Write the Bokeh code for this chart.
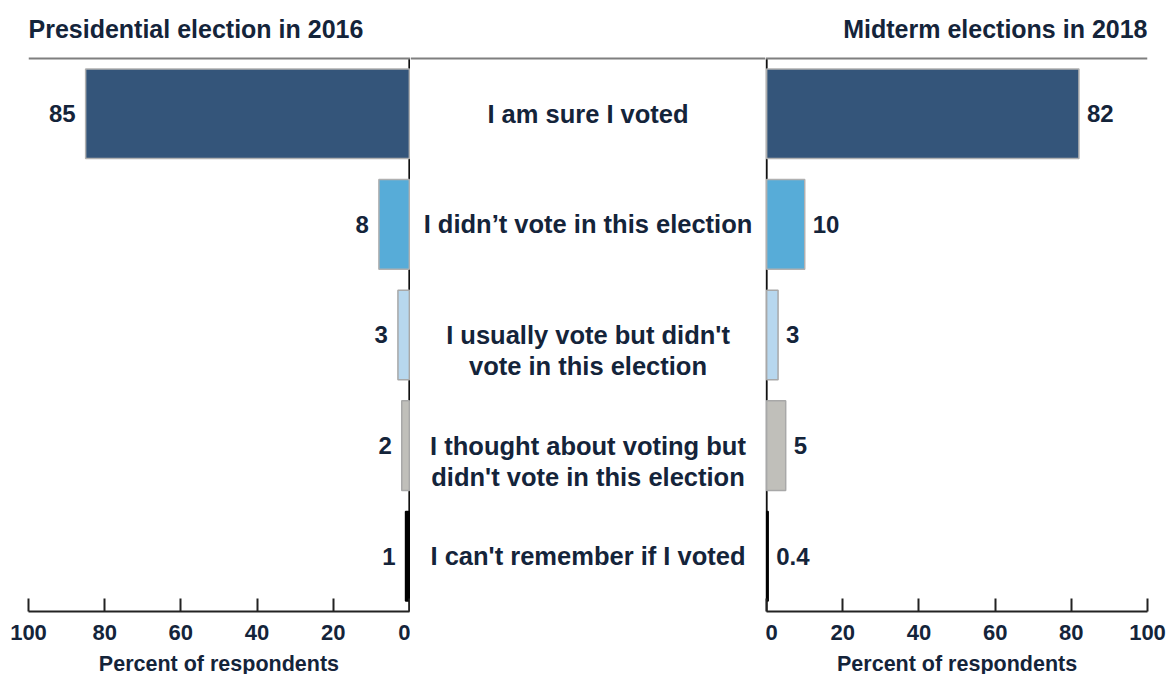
from bokeh.plotting import figure
from bokeh.layouts import row, column
from bokeh.models import Range1d, FixedTicker, Span
from bokeh.core.properties import value
from bokeh.embed import file_html
from bokeh.resources import INLINE

# ---- data ----
categories = [
    "I am sure I voted",
    "I didn\u2019t vote in this election",
    "I usually vote but didn't\nvote in this election",
    "I thought about voting but\ndidn't vote in this election",
    "I can't remember if I voted",
]
pres_2016 = [85, 8, 3, 2, 1]
mid_2018 = [82, 10, 3, 5, 0.4]
bar_colors = ["#34557a", "#57acd8", "#b7d7ee", "#c0bfba", "#000000"]
edge_colors = ["#b0b0b0", "#b0b0b0", "#a8a8a8", "#a8a8a8", "#000000"]
ticks = [0, 20, 40, 60, 80, 100]
left_title = "Presidential election in 2016"
right_title = "Midterm elections in 2018"
axis_title = "Percent of respondents"

# ---- style / layout ----
FONT = "Liberation Sans"
TXT = "#14243a"
W_L, W_M, W_R = 410, 355, 403
B_L, B_R = 28, 21
TOP_H = 51
MAIN_H = 602
MAIN_BOTTOM = 42
BOT_H = 21
BAR_H = 0.81
LINE_STEP = 0.284
rows = list(range(len(categories)))

left_range = Range1d(100, -0.3)
mid_range = Range1d(0, 1)
right_range = Range1d(-0.3, 100)


def fmt(v):
    return f"{v:g}"


def blank(width, height, xr, bl, br):
    p = figure(width=width, height=height, x_range=xr, y_range=Range1d(0, height),
               output_backend="svg", toolbar_location=None,
               x_axis_location=None, y_axis_location=None,
               min_border_left=bl, min_border_right=br,
               min_border_top=0, min_border_bottom=0)
    p.outline_line_color = None
    p.grid.visible = False
    p.border_fill_color = "white"
    return p


def main(width, xr, bl, br, axis=True):
    p = figure(width=width, height=MAIN_H, x_range=xr, y_range=Range1d(4.5, -0.563),
               output_backend="svg", toolbar_location=None, y_axis_location=None,
               x_axis_location="below" if axis else None,
               min_border_left=bl, min_border_right=br,
               min_border_top=0, min_border_bottom=MAIN_BOTTOM)
    p.outline_line_color = None
    p.grid.visible = False
    p.border_fill_color = "white"
    p.add_layout(Span(location=-0.5, dimension="width", line_color="#7f7f7f", line_width=2))
    if axis:
        ax = p.xaxis[0]
        ax.ticker = FixedTicker(ticks=ticks)
        ax.bounds = (0, 100)
        ax.major_tick_in = 13
        ax.major_tick_out = 0
        ax.minor_tick_line_color = None
        ax.axis_line_width = 2
        ax.major_tick_line_width = 2
        ax.axis_line_color = "#222222"
        ax.major_tick_line_color = "#222222"
        ax.major_label_text_font = FONT
        ax.major_label_text_font_size = "22px"
        ax.major_label_text_font_style = "bold"
        ax.major_label_text_color = TXT
        ax.major_label_standoff = 13
        p.segment(x0=[0], y0=[-0.5], x1=[0], y1=[4.5], line_color="#111111", line_width=2)
    return p


text_kw = dict(text_font=value(FONT), text_font_style="bold", text_color=TXT)

# ---- title strip ----
t1 = blank(W_L, TOP_H, left_range, B_L, 0)
t1.text(x=[100], y=[23], text=[left_title], text_align="left",
        text_baseline="middle", text_font_size="25px", **text_kw)
t2 = blank(W_M, TOP_H, mid_range, 0, 0)
t3 = blank(W_R, TOP_H, right_range, 0, B_R)
t3.text(x=[100], y=[23], text=[right_title], text_align="right",
        text_baseline="middle", text_font_size="25px", **text_kw)

# ---- left panel (2016) ----
p1 = main(W_L, left_range, B_L, 0)
p1.hbar(y=rows, left=0, right=pres_2016, height=BAR_H,
        fill_color=bar_colors, line_color=edge_colors, line_width=1.5)
p1.text(x=pres_2016, y=rows, text=[fmt(v) for v in pres_2016],
        text_align="right", text_baseline="middle", x_offset=-10,
        text_font_size="24px", **text_kw)

# ---- middle panel (categories) ----
p2 = main(W_M, mid_range, 0, 0, axis=False)
lx, ly, lt = [], [], []
for r, c in zip(rows, categories):
    for k, line in enumerate(c.split("\n")):
        lx.append(0.5)
        ly.append(r + k * LINE_STEP)
        lt.append(line)
p2.text(x=lx, y=ly, text=lt, text_align="center", text_baseline="middle",
        text_font_size="25.5px", **text_kw)

# ---- right panel (2018) ----
p3 = main(W_R, right_range, 0, B_R)
p3.hbar(y=rows, left=0, right=mid_2018, height=BAR_H,
        fill_color=bar_colors, line_color=edge_colors, line_width=1.5)
p3.text(x=mid_2018, y=rows, text=[fmt(v) for v in mid_2018],
        text_align="left", text_baseline="middle", x_offset=8,
        text_font_size="24px", **text_kw)

# ---- axis-title strip ----
b1 = blank(W_L, BOT_H, left_range, B_L, 0)
b1.text(x=[50], y=[11], text=[axis_title], text_align="center",
        text_baseline="middle", text_font_size="21.5px", **text_kw)
b2 = blank(W_M, BOT_H, mid_range, 0, 0)
b3 = blank(W_R, BOT_H, right_range, 0, B_R)
b3.text(x=[50], y=[11], text=[axis_title], text_align="center",
        text_baseline="middle", text_font_size="21.5px", **text_kw)

layout = column(row(t1, t2, t3), row(p1, p2, p3), row(b1, b2, b3))
open("out.html", "w").write(file_html(layout, INLINE))
